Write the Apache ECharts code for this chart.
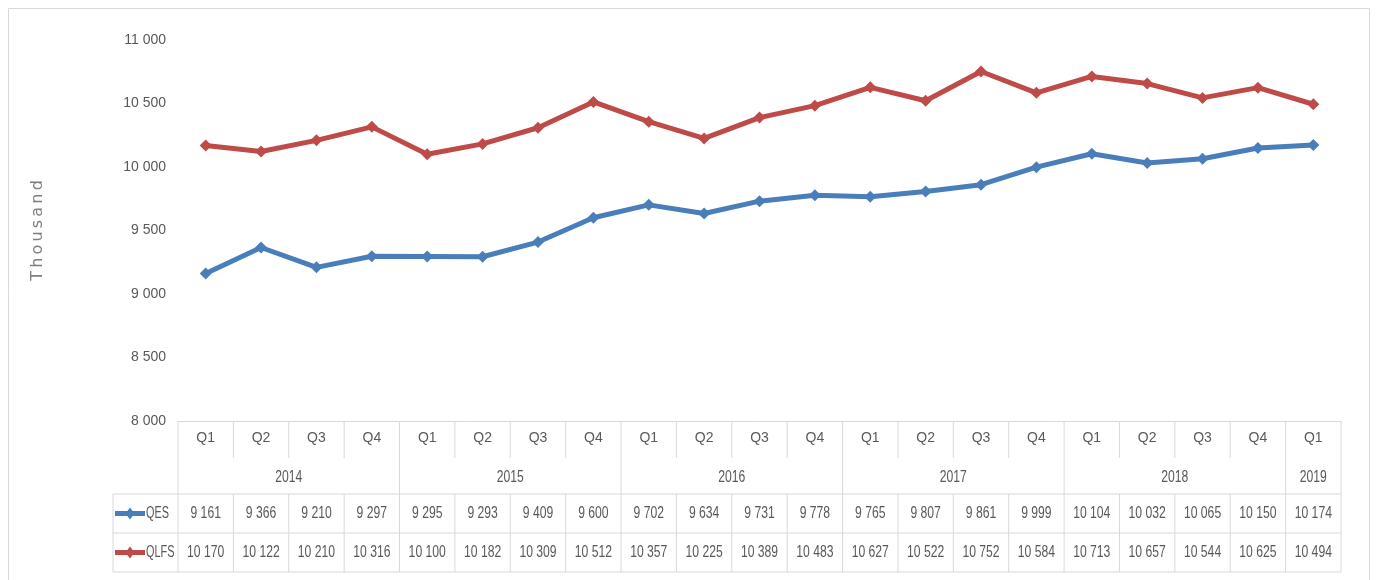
<!DOCTYPE html>
<html>
<head>
<meta charset="utf-8">
<script src="https://cdn.jsdelivr.net/npm/echarts@6/dist/echarts.min.js"></script>
<style>
html,body{margin:0;padding:0;background:#fff;}
#c{width:1377px;height:580px;}
</style>
</head>
<body>
<div id="c"></div>
<script>
var quarters = ['Q1','Q2','Q3','Q4','Q1','Q2','Q3','Q4','Q1','Q2','Q3','Q4','Q1','Q2','Q3','Q4','Q1','Q2','Q3','Q4','Q1'];
var years = ['2014','2015','2016','2017','2018','2019'];
var yearSpans = [4,4,4,4,4,1];
var qes = [9161,9366,9210,9297,9295,9293,9409,9600,9702,9634,9731,9778,9765,9807,9861,9999,10104,10032,10065,10150,10174];
var qlfs = [10170,10122,10210,10316,10100,10182,10309,10512,10357,10225,10389,10483,10627,10522,10752,10584,10713,10657,10544,10625,10494];
var seriesNames = ['QES','QLFS'];
var colors = ['#4A7EBB','#BE4B48'];

var FONT = '"Liberation Sans Narrow", "Liberation Sans", Arial, sans-serif';
var TXT = '#595959';
var LINE = '#d9d9d9';
var SQ = 0.76; // horizontal squeeze of table text

function fmt(v){ return String(v).replace(/\B(?=(\d{3})+(?!\d))/g, ' '); }

var chart = echarts.init(document.getElementById('c'), null, {renderer:'canvas'});
var option = {
  animation: false,
  backgroundColor: '#fff',
  grid: {left: 178, right: 36, top: 40, bottom: 159},
  xAxis: {
    type: 'category', data: quarters, boundaryGap: true,
    axisLine: {show: true, lineStyle: {color: LINE, width: 1}},
    axisTick: {show: false},
    axisLabel: {interval: 0, color: TXT, fontFamily: FONT, fontSize: 14, margin: 10}
  },
  yAxis: {
    type: 'value', min: 8000, max: 11000, interval: 500,
    name: 'T\u2009h\u2009o\u2009u\u2009s\u2009a\u2009n\u2009d', nameLocation: 'middle', nameGap: 132, nameRotate: 90,
    nameTextStyle: {color: '#7f7f7f', fontFamily: 'DejaVu Sans, Verdana, sans-serif', fontSize: 16},
    axisLine: {show: false}, axisTick: {show: false},
    splitLine: {show: false},
    axisLabel: {color: TXT, fontFamily: FONT, fontSize: 14, margin: 12, formatter: fmt}
  },
  series: [
    {name: seriesNames[0], type: 'line', data: qes, symbol: 'diamond', symbolSize: 12,
     itemStyle: {color: colors[0]}, lineStyle: {color: colors[0], width: 5}},
    {name: seriesNames[1], type: 'line', data: qlfs, symbol: 'diamond', symbolSize: 12,
     itemStyle: {color: colors[1]}, lineStyle: {color: colors[1], width: 5}}
  ]
};
chart.setOption(option);

// Build the data table below the axis from the chart's own scale
var n = quarters.length;
var cx = [];
for (var i = 0; i < n; i++) cx.push(chart.convertToPixel({xAxisIndex: 0}, i));
var bw = cx[1] - cx[0];
var x0 = cx[0] - bw/2, x1 = cx[n-1] + bw/2;
var yTop = chart.convertToPixel({yAxisIndex: 0}, 8000);
var yQ = yTop + 37, yYear = yTop + 73, yRow1 = yTop + 112, yBot = yTop + 151;
var keyLeft = 113;

var g = [];
function ln(xa, ya, xb, yb){ g.push({type:'line', shape:{x1:xa,y1:ya,x2:xb,y2:yb}, style:{stroke:LINE, lineWidth:1}, silent:true}); }
function tx(x, y, s, align, sq){ g.push({type:'text', x:x, y:y, scaleX:sq||SQ, style:{text:s, fill:TXT, font:'16px ' + FONT, textAlign:align||'center', textVerticalAlign:'middle'}, silent:true}); }

// outer frame
g.push({type:'rect', shape:{x:8.5,y:8.5,width:1361,height:600}, style:{fill:'none', stroke:LINE, lineWidth:1}, silent:true});

// horizontal lines
ln(keyLeft, yYear, x1, yYear);
ln(keyLeft, yRow1, x1, yRow1);
ln(keyLeft, yBot, x1, yBot);
ln(keyLeft, yYear, keyLeft, yBot);
// verticals
var idx = 0, bounds = [0];
for (var k = 0; k < yearSpans.length; k++){ idx += yearSpans[k]; bounds.push(idx); }
for (var i = 0; i <= n; i++){
  var x = x0 + i*bw;
  if (bounds.indexOf(i) >= 0) ln(x, yTop, x, yBot);
  else { ln(x, yTop, x, yQ); ln(x, yYear, x, yBot); }
}
// year labels
var start = 0;
for (var k = 0; k < years.length; k++){
  var a = start, b = start + yearSpans[k] - 1;
  tx((cx[a] + cx[b])/2, (yQ + yYear)/2 + 2, years[k]);
  start += yearSpans[k];
}
// data rows
var rows = [qes, qlfs];
var rowY = [(yYear + yRow1)/2, (yRow1 + yBot)/2];
for (var r = 0; r < 2; r++){
  for (var i = 0; i < n; i++) tx(cx[i], rowY[r], fmt(rows[r][i]));
  // legend key
  g.push({type:'line', shape:{x1:keyLeft+2, y1:rowY[r], x2:keyLeft+32, y2:rowY[r]}, style:{stroke:colors[r], lineWidth:5}, silent:true});
  var dcx = keyLeft+17, dcy = rowY[r];
  g.push({type:'polygon', shape:{points:[[dcx,dcy-6],[dcx+4.5,dcy],[dcx,dcy+6],[dcx-4.5,dcy]]}, style:{fill:colors[r]}, silent:true});
  tx(keyLeft+33, rowY[r], seriesNames[r], 'left', 0.68);
}
chart.setOption({graphic: g});
</script>
</body>
</html>
